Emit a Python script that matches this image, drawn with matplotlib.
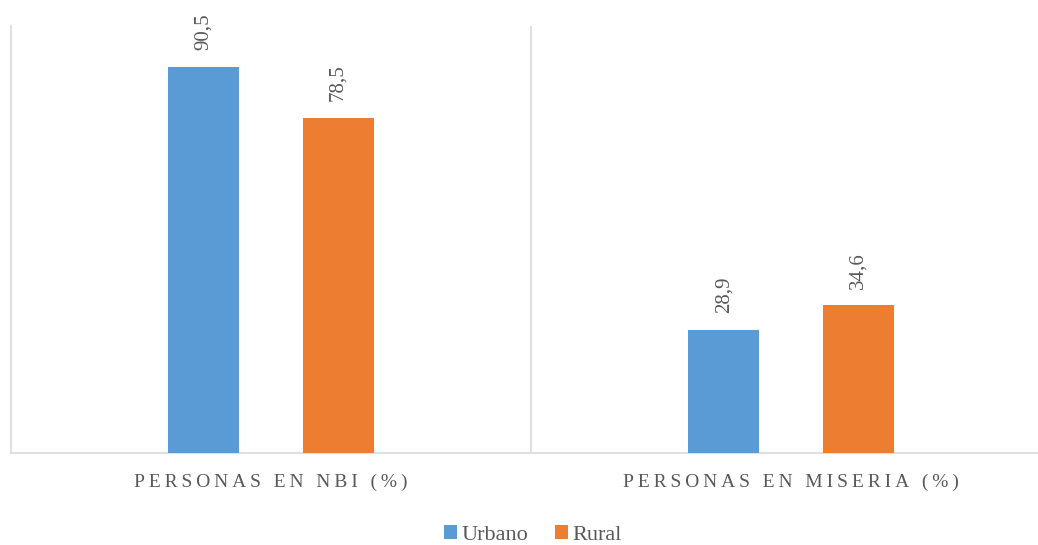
import matplotlib
matplotlib.use("Agg")
import matplotlib.pyplot as plt
import numpy as np

categories = ["PERSONAS EN NBI (%)", "PERSONAS EN MISERIA (%)"]
series_names = ["Urbano", "Rural"]
urbano = [90.5, 28.9]
rural = [78.5, 34.6]
colors = ["#5B9BD5", "#ED7D31"]

plt.rcParams['font.family'] = ['Liberation Serif', 'DejaVu Serif']

W, H = 1038, 545
fig = plt.figure(figsize=(W / 100, H / 100), dpi=100)
ax = fig.add_axes([11 / W, (H - 453) / H, 1040 / W, 427 / H])

x = np.arange(len(categories))
bw = 0.1365
off = 0.129
for vals, name, c, o in [(urbano, series_names[0], colors[0], -off), (rural, series_names[1], colors[1], off)]:
    bars = ax.bar(x + o, vals, width=bw, color=c, label=name, zorder=3)
    for b, v in zip(bars, vals):
        ax.annotate(f"{v:.1f}".replace(".", ","), (b.get_x() + b.get_width() / 2, v),
                    xytext=(0, 12), textcoords="offset points", rotation=90,
                    ha="center", va="bottom", color="#595959", fontsize=15)

ax.set_xlim(-0.5, len(categories) - 0.5)
ax.set_ylim(0, 100)
ax.set_yticks([])
ax.set_xticks(x)
spaced = ["\u2009".join(c) for c in categories]
ax.set_xticklabels(spaced, fontsize=14, color="#595959")
ax.tick_params(axis="x", length=0, pad=15)
for s in ["top", "right"]:
    ax.spines[s].set_visible(False)
ax.spines["left"].set_color("#D9D9D9")
ax.spines["bottom"].set_color("#D9D9D9")
ax.spines["left"].set_linewidth(1.2)
ax.spines["bottom"].set_linewidth(1.2)
for b in np.arange(0.5, len(categories) - 0.5, 1):
    ax.axvline(b, color="#D9D9D9", lw=1.2, zorder=1)

leg = fig.legend(loc="center", bbox_to_anchor=(533 / W, (H - 535) / H), ncol=2, frameon=False,
                 fontsize=16, handlelength=0.6, handleheight=0.6, handletextpad=0.2, columnspacing=1.2,
                 labelcolor="#595959", borderpad=0.2)
fig.savefig("out.png", dpi=100)
